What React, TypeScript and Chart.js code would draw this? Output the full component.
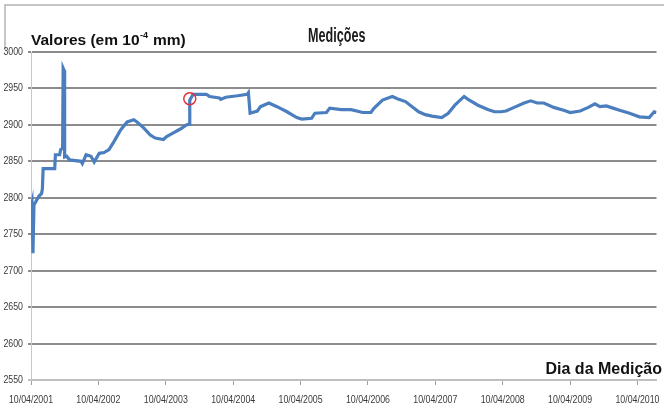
import React, { useEffect, useRef } from "react";
import { Chart, registerables } from "chart.js";

Chart.register(...registerables);

// Decimal years (10/04/2001 = 2001.271)
const anos = [
  2001.271, 2001.286, 2001.3, 2001.315, 2001.344, 2001.388, 2001.428, 2001.44, 2001.451,
  2001.623, 2001.633, 2001.696, 2001.711, 2001.74, 2001.748, 2001.762, 2001.77, 2001.799,
  2001.843, 2002.014, 2002.033, 2002.088, 2002.161, 2002.209, 2002.283, 2002.356, 2002.429,
  2002.502, 2002.601, 2002.698, 2002.796, 2002.844, 2002.943, 2003.041, 2003.114, 2003.236,
  2003.284, 2003.383, 2003.481, 2003.578, 2003.617, 2003.627, 2003.676, 2003.871, 2003.921,
  2004.067, 2004.086, 2004.16, 2004.335, 2004.482, 2004.497, 2004.522, 2004.629, 2004.677,
  2004.8, 2004.922, 2005.069, 2005.215, 2005.289, 2005.435, 2005.484, 2005.655, 2005.704,
  2005.875, 2006.022, 2006.193, 2006.315, 2006.363, 2006.487, 2006.633, 2006.707, 2006.828,
  2006.927, 2007.023, 2007.122, 2007.22, 2007.366, 2007.463, 2007.561, 2007.698, 2007.757,
  2007.903, 2008.05, 2008.148, 2008.246, 2008.32, 2008.441, 2008.588, 2008.686, 2008.783,
  2008.881, 2009.028, 2009.175, 2009.273, 2009.42, 2009.541, 2009.639, 2009.713, 2009.809,
  2009.907, 2010.006, 2010.152, 2010.299, 2010.445, 2010.519, 2010.553,
];

const valores = [
  2785, 2792, 2724, 2790, 2795, 2802, 2806, 2812, 2840,
  2840, 2859, 2859, 2866, 2868, 2978, 2975, 2856, 2857,
  2852, 2850, 2847, 2859, 2857, 2849, 2861, 2862, 2866,
  2877, 2893, 2904, 2907, 2904, 2896, 2886, 2882, 2880,
  2884, 2889, 2894, 2900, 2901, 2934, 2942, 2942, 2939,
  2937, 2935, 2938, 2940, 2942, 2944, 2916, 2919, 2925,
  2930, 2925, 2918, 2910, 2908, 2909, 2916, 2917, 2923,
  2921, 2921, 2917, 2917, 2923, 2934, 2939, 2936, 2932,
  2925, 2918, 2914, 2912, 2910, 2916, 2927, 2939, 2935,
  2927, 2921, 2918, 2918, 2919, 2924, 2930, 2933, 2930,
  2930, 2924, 2920, 2917, 2919, 2924, 2929, 2925, 2926,
  2923, 2920, 2916, 2911, 2910, 2918, 2917,
];

const marcoAno = [2003.627];
const marcoValor = [2936];

const posicoesX = [2001.271, 2002.271, 2003.271, 2004.271, 2005.271, 2006.271, 2007.271, 2008.271, 2009.271, 2010.271];
const rotulosX = ["10/04/2001", "10/04/2002", "10/04/2003", "10/04/2004", "10/04/2005", "10/04/2006", "10/04/2007", "10/04/2008", "10/04/2009", "10/04/2010"];
const valoresY = [2550, 2600, 2650, 2700, 2750, 2800, 2850, 2900, 2950, 3000];
const rotulosY = ["2550", "2600", "2650", "2700", "2750", "2800", "2850", "2900", "2950", "3000"];

const titulo = "Medições";
const tituloY = "Valores (em 10";
const expoenteY = "-4";
const tituloYFim = " mm)";
const tituloX = "Dia da Medição";

const SANS = '"Liberation Sans", Arial, sans-serif';

function narrowText(ctx: any, text: string, x: number, y: number, sx: number) {
  ctx.save();
  ctx.translate(x, y);
  ctx.scale(sx, 1);
  ctx.fillText(text, 0, 0);
  ctx.restore();
}

const textPlugin = {
  id: "textos",
  afterDraw(chart: any) {
    const ctx = chart.ctx;
    const xs = chart.scales.x;
    const ys = chart.scales.y;
    ctx.save();
    // frame lines
    ctx.strokeStyle = "#b4b4b4";
    ctx.lineWidth = 1.5;
    ctx.beginPath();
    ctx.moveTo(5, 50);
    ctx.lineTo(5, 5);
    ctx.lineTo(664, 5);
    ctx.stroke();

    // tick labels (narrow)
    ctx.fillStyle = "#3a3a3a";
    ctx.font = `11px ${SANS}`;
    ctx.textBaseline = "middle";
    ctx.textAlign = "right";
    valoresY.forEach((v, i) => {
      narrowText(ctx, rotulosY[i], 23, ys.getPixelForValue(v), 0.8);
    });
    ctx.textAlign = "center";
    posicoesX.forEach((v, i) => {
      narrowText(ctx, rotulosX[i], xs.getPixelForValue(v), 400, 0.8);
    });

    ctx.fillStyle = "#111";
    ctx.textBaseline = "alphabetic";
    ctx.textAlign = "left";
    ctx.font = `bold 15.5px ${SANS}`;
    ctx.fillText(tituloY, 31, 45);
    const w = ctx.measureText(tituloY).width;
    ctx.font = `bold 9px ${SANS}`;
    ctx.fillText(expoenteY, 31 + w + 0.5, 38);
    const w2 = ctx.measureText(expoenteY).width;
    ctx.font = `bold 15.5px ${SANS}`;
    ctx.fillText(tituloYFim, 31 + w + w2 + 1, 45);

    ctx.fillStyle = "#1a1a1a";
    ctx.font = `bold 20px ${SANS}`;
    narrowText(ctx, titulo, 308, 42, 0.63);

    ctx.fillStyle = "#111";
    ctx.font = `bold 16px ${SANS}`;
    ctx.textAlign = "right";
    ctx.fillText(tituloX, 662, 374);
    ctx.restore();
  },
};

export default function App() {
  const ref = useRef<HTMLCanvasElement>(null);
  useEffect(() => {
    const canvas = ref.current!;
    const pontos = anos.map((a, i) => ({ x: a, y: valores[i] }));
    const marco = marcoAno.map((a, i) => ({ x: a, y: marcoValor[i] }));
    const chart = new Chart(canvas, {
      type: "line",
      data: {
        datasets: [
          {
            data: marco,
            showLine: false,
            pointRadius: 6,
            pointHoverRadius: 6,
            pointBorderColor: "#e0303a",
            pointBorderWidth: 1.5,
            pointBackgroundColor: "rgba(0,0,0,0)",
          },
          {
            data: pontos,
            borderColor: "#4a7ebf",
            borderWidth: 3.2,
            pointRadius: 0,
            tension: 0,
            fill: false,
          },
        ],
      },
      options: {
        animation: false,
        responsive: false,
        maintainAspectRatio: false,
        layout: { padding: { top: 52, left: 0, right: 0, bottom: 0 } },
        plugins: { legend: { display: false }, tooltip: { enabled: false }, title: { display: false } },
        scales: {
          x: {
            type: "linear",
            min: 2001.271,
            max: 2010.553,
            afterBuildTicks: (scale: any) => {
              scale.ticks = posicoesX.map((v) => ({ value: v }));
            },
            afterFit: (scale: any) => {
              scale.paddingLeft = 0;
              scale.paddingRight = 0;
              scale.height = 29;
            },
            ticks: { display: false, autoSkip: false, maxRotation: 0, minRotation: 0 },
            grid: { drawOnChartArea: false, drawTicks: true, tickLength: 5, color: "#a0a0a0", lineWidth: 1 },
            border: { display: true, color: "#bdbdbd", width: 1.5 },
          },
          y: {
            min: 2550,
            max: 3000,
            afterBuildTicks: (scale: any) => {
              scale.ticks = valoresY.map((v) => ({ value: v }));
            },
            afterFit: (scale: any) => {
              scale.width = 31;
              scale.paddingTop = 0;
              scale.paddingBottom = 0;
            },
            ticks: { display: false },
            grid: {
              color: (c: any) => (c.tick && c.tick.value === 2550 ? "#c4c4c4" : "#8c8c8c"),
              lineWidth: 2,
              tickLength: 3,
            },
            border: { display: true, color: "#c8c8c8", width: 1 },
          },
        },
      },
      plugins: [textPlugin],
    } as any);
    return () => chart.destroy();
  }, []);
  return (
    <div style={{ position: "fixed", left: 0, top: 0, width: 664, height: 409, background: "#fff" }}>
      <canvas ref={ref} width={664} height={409} style={{ display: "block", width: 664, height: 409 }} />
    </div>
  );
}
